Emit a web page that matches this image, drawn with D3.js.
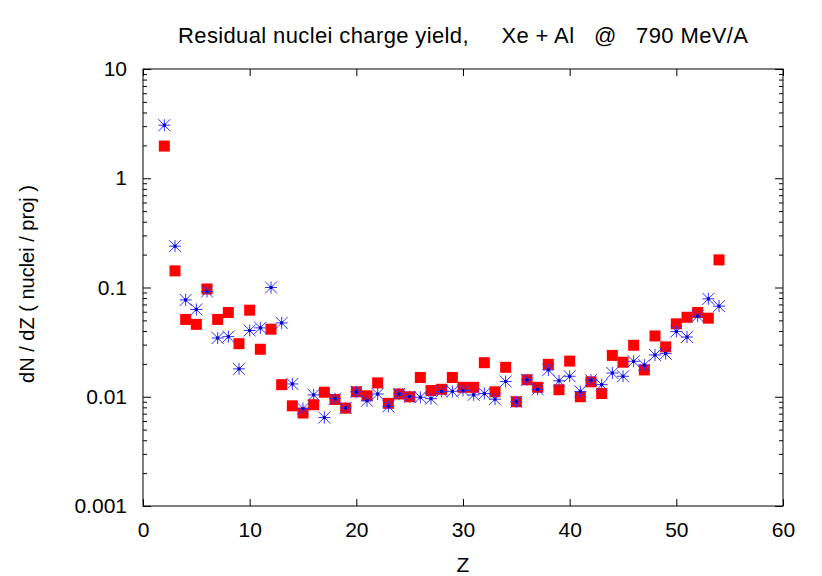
<!DOCTYPE html>
<html>
<head>
<meta charset="utf-8">
<script src="https://cdn.jsdelivr.net/npm/d3@7"></script>
<style>
  body { margin: 0; background: #fff; }
  svg { font-family: "Liberation Sans", Arial, sans-serif; }
</style>
</head>
<body>
<div id="wrapper"></div>
<script>
// data
const charges = [2, 3, 4, 5, 6, 7, 8, 9, 10, 11, 12, 13, 14, 15, 16, 17, 18, 19, 20,
  21, 22, 23, 24, 25, 26, 27, 28, 29, 30, 31, 32, 33, 34, 35, 36, 37, 38, 39, 40,
  41, 42, 43, 44, 45, 46, 47, 48, 49, 50, 51, 52, 53, 54]

const yieldRed = [1.97, 0.142, 0.051, 0.046, 0.097, 0.051, 0.059, 0.0306, 0.062, 0.0272,
  0.0415, 0.0129, 0.00826, 0.0071, 0.00845, 0.011, 0.00944, 0.00787, 0.0111,
  0.0102, 0.0134, 0.0087, 0.0106, 0.0100, 0.0150, 0.0114, 0.0117, 0.0150, 0.0122,
  0.0122, 0.0205, 0.0111, 0.0186, 0.0090, 0.0143, 0.0122, 0.0198, 0.0116, 0.0212,
  0.0100, 0.0137, 0.0107, 0.0239, 0.0207, 0.0296, 0.0176, 0.036, 0.0286, 0.0465,
  0.0534, 0.059, 0.0524, 0.179]

const yieldBlue = [3.06, 0.239, 0.077, 0.063, 0.092, 0.0345, 0.0355, 0.018, 0.0404, 0.0427,
  0.1, 0.0474, 0.0131, 0.0078, 0.0104, 0.00645, 0.0096, 0.0079, 0.0111,
  0.0092, 0.0106, 0.00816, 0.0106, 0.0100, 0.0099, 0.0096, 0.0112, 0.0112, 0.0114,
  0.0104, 0.0107, 0.0095, 0.0138, 0.0090, 0.0143, 0.0117, 0.0176, 0.014, 0.0154,
  0.0112, 0.0142, 0.0129, 0.0165, 0.0154, 0.0211, 0.0195, 0.0241, 0.0248, 0.0395,
  0.0352, 0.0546, 0.0787, 0.0675]

const xTicks = [0, 10, 20, 30, 40, 50, 60]
const yTicks = [0.001, 0.01, 0.1, 1, 10]
const yTickLabels = ["0.001", "0.01", "0.1", "1", "10"]

const titleText = "Residual nuclei charge yield,     Xe + Al   @   790 MeV/A"

function drawChart() {
    const dims = {
        width: 822,
        height: 576,
        margin: { top: 69, right: 39, bottom: 70, left: 143 },
    }
    dims.boundedWidth = dims.width - dims.margin.left - dims.margin.right
    dims.boundedHeight = dims.height - dims.margin.top - dims.margin.bottom

    const wrapper = d3.select("#wrapper")
        .append("svg")
        .attr("width", dims.width)
        .attr("height", dims.height)

    const bounds = wrapper.append("g")
        .attr("transform", `translate(${dims.margin.left},${dims.margin.top})`)

    const xScale = d3.scaleLinear()
        .domain([0, 60])
        .range([0, dims.boundedWidth])

    const yScale = d3.scaleLog()
        .domain([0.001, 10])
        .range([dims.boundedHeight, 0])

    // minor ticks 2..9 per decade
    const minor = []
    for (let e = -3; e < 1; e++) {
        for (let m = 2; m <= 9; m++) minor.push(m * Math.pow(10, e))
    }

    const axisStyle = g => {
        g.select(".domain").remove()
        g.selectAll("text")
            .style("font-size", "21px")
            .attr("fill", "black")
        g.selectAll("line").attr("stroke", "black")
    }

    // ticks, gnuplot style: inward on all four sides
    bounds.append("g")
        .attr("transform", `translate(0,${dims.boundedHeight})`)
        .call(d3.axisBottom(xScale).tickValues(xTicks).tickSize(-7).tickPadding(16))
        .call(axisStyle)
    bounds.append("g")
        .call(d3.axisTop(xScale).tickValues(xTicks).tickSize(-7).tickFormat(""))
        .call(axisStyle)

    bounds.append("g")
        .call(d3.axisLeft(yScale).tickValues(yTicks).tickSize(-8).tickPadding(16)
            .tickFormat((d, i) => yTickLabels[i]))
        .call(axisStyle)
    bounds.append("g")
        .call(d3.axisLeft(yScale).tickValues(minor).tickSize(-4).tickFormat(""))
        .call(axisStyle)
    bounds.append("g")
        .attr("transform", `translate(${dims.boundedWidth},0)`)
        .call(d3.axisRight(yScale).tickValues(yTicks).tickSize(-8).tickFormat(""))
        .call(axisStyle)
    bounds.append("g")
        .attr("transform", `translate(${dims.boundedWidth},0)`)
        .call(d3.axisRight(yScale).tickValues(minor).tickSize(-4).tickFormat(""))
        .call(axisStyle)

    bounds.append("rect")
        .attr("width", dims.boundedWidth)
        .attr("height", dims.boundedHeight)
        .attr("fill", "none")
        .attr("stroke", "black")
        .attr("stroke-width", 1)

    // red squares
    const s = 11
    bounds.append("g").selectAll("rect")
        .data(charges)
        .join("rect")
        .attr("x", (d, i) => xScale(d) - s / 2)
        .attr("y", (d, i) => yScale(yieldRed[i]) - s / 2)
        .attr("width", s)
        .attr("height", s)
        .attr("fill", "#ff0000")

    // blue asterisks
    const r = 6
    const stars = bounds.append("g").selectAll("g")
        .data(charges)
        .join("g")
        .attr("transform", (d, i) => `translate(${xScale(d)},${yScale(yieldBlue[i])})`)
    const segs = [[-r, 0, r, 0], [0, -r, 0, r], [-r, -r, r, r], [-r, r, r, -r]]
    segs.forEach(p => {
        stars.append("line")
            .attr("x1", p[0]).attr("y1", p[1])
            .attr("x2", p[2]).attr("y2", p[3])
            .attr("stroke", "#3030ff")
            .attr("stroke-width", 1)
    })
    stars.append("rect")
        .attr("x", -1.5).attr("y", -1.5)
        .attr("width", 3).attr("height", 3)
        .attr("fill", "#0000c0")

    // labels
    wrapper.append("text")
        .attr("x", 178)
        .attr("y", 43)
        .attr("textLength", 570)
        .attr("lengthAdjust", "spacing")
        .style("white-space", "pre")
        .style("font-size", "22px")
        .text(titleText)

    wrapper.append("text")
        .attr("x", dims.margin.left + dims.boundedWidth / 2)
        .attr("y", 572)
        .attr("text-anchor", "middle")
        .style("font-size", "21px")
        .text("Z")

    wrapper.append("text")
        .attr("transform", `translate(34,284) rotate(-90)`)
        .attr("text-anchor", "middle")
        .style("font-size", "20px")
        .text("dN / dZ ( nuclei / proj )")
}

drawChart()
</script>
</body>
</html>
